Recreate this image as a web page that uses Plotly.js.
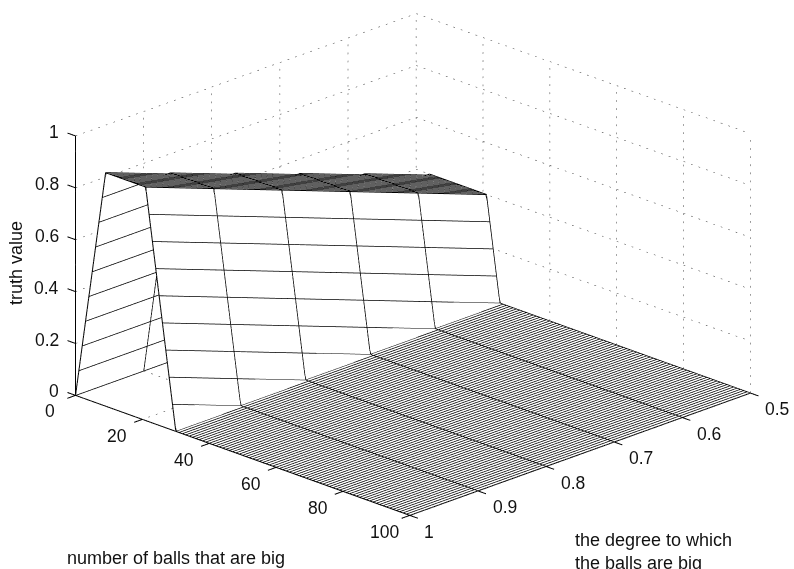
<!DOCTYPE html>
<html><head><meta charset="utf-8">
<script src="https://cdn.plot.ly/plotly-3.0.1.min.js"></script>
<style>html,body{margin:0;padding:0;background:#fff}#c{width:794px;height:569px}</style>
</head><body><div id="c"></div>
<script>
const ballCounts = [0,1,2,3,4,5,6,7,8,9,10,11,12,13,14,15,16,17,18,19,20,21,22,23,24,25,26,27,28,29,30,
 31,32,33,34,35,36,37,38,39,40,41,42,43,44,45,46,47,48,49,50,51,52,53,54,55,56,57,58,59,60,
 61,62,63,64,65,66,67,68,69,70,71,72,73,74,75,76,77,78,79,80,81,82,83,84,85,86,87,88,89,90,
 91,92,93,94,95,96,97,98,99,100];
const degrees = [0.5,0.6,0.7,0.8,0.9,1];
const floorTail = [0,0,0,0,0,0,0,0,0,0, 0,0,0,0,0,0,0,0,0,0, 0,0,0,0,0,0,0,0,0,0, 0,0,0,0,0,0,0,0,0,0,
 0,0,0,0,0,0,0,0,0,0, 0,0,0,0,0,0,0,0,0,0, 0,0,0,0,0,0,0,0,0,0];
const truthAt05 = [0,.1,.2,.3,.4,.4,.4,.4,.4,.4,.4,.4,.4,.4,.4,.4,.4,.4,.4,.4,.4,.4,.3,.2,.1,0,0,0,0,0,0];
const truthAt06 = [0,.1,.2,.3,.4,.5,.5,.5,.5,.5,.5,.5,.5,.5,.5,.5,.5,.5,.5,.5,.5,.5,.4,.3,.2,.1,0,0,0,0,0];
const truthAt07 = [0,.1,.2,.3,.4,.5,.6,.6,.6,.6,.6,.6,.6,.6,.6,.6,.6,.6,.6,.6,.6,.6,.5,.4,.3,.2,.1,0,0,0,0];
const truthAt08 = [0,.1,.2,.3,.4,.5,.6,.7,.7,.7,.7,.7,.7,.7,.7,.7,.7,.7,.7,.7,.7,.7,.6,.5,.4,.3,.2,.1,0,0,0];
const truthAt09 = [0,.1,.2,.3,.4,.5,.6,.7,.8,.8,.8,.8,.8,.8,.8,.8,.8,.8,.8,.8,.8,.8,.7,.6,.5,.4,.3,.2,.1,0,0];
const truthAt10 = [0,.1,.2,.3,.4,.5,.6,.7,.8,.9,.9,.9,.9,.9,.9,.9,.9,.9,.9,.9,.9,.9,.8,.7,.6,.5,.4,.3,.2,.1,0];
const xTicks = [0,20,40,60,80,100];
const yTicks = [0.5,0.6,0.7,0.8,0.9,1];
const zTicks = [0,0.2,0.4,0.6,0.8,1];
const xTickLabels = ['0','20','40','60','80','100'];
const yTickLabels = ['0.5','0.6','0.7','0.8','0.9','1'];
const zTickLabels = ['0','0.2','0.4','0.6','0.8','1'];

const truth = [truthAt05,truthAt06,truthAt07,truthAt08,truthAt09,truthAt10].map(r => r.concat(floorTail));
const xMin=0,xMax=100,yFront=1,yBack=0.5,zMin=0,zMax=1;

function segs(list){const X=[],Y=[],Z=[];list.forEach(s=>{X.push(s[0][0],s[1][0],null);Y.push(s[0][1],s[1][1],null);Z.push(s[0][2],s[1][2],null);});return{x:X,y:Y,z:Z};}
function dotted(a,b,n){const out=[];for(let i=0;i<=n;i++){const t=i/n,u=Math.min(1,t+0.22/n);
 out.push([[a[0]+(b[0]-a[0])*t,a[1]+(b[1]-a[1])*t,a[2]+(b[2]-a[2])*t],[a[0]+(b[0]-a[0])*u,a[1]+(b[1]-a[1])*u,a[2]+(b[2]-a[2])*u]]);}return out;}
const grid=[];
const add=(a,b,n)=>dotted(a,b,n).forEach(s=>grid.push(s));
yTicks.forEach(y=>{add([xMin,y,zMin],[xMin,y,zMax],32);add([xMin,y,zMin],[xMax,y,zMin],45);});
xTicks.forEach(x=>{add([x,yBack,zMin],[x,yBack,zMax],32);add([x,yBack,zMin],[x,yFront,zMin],45);});
zTicks.forEach(z=>{add([xMin,yFront,z],[xMin,yBack,z],45);add([xMin,yBack,z],[xMax,yBack,z],45);});
const frame=[[[xMin,yFront,zMin],[xMin,yFront,zMax]],[[xMin,yFront,zMin],[xMax,yFront,zMin]],[[xMax,yFront,zMin],[xMax,yBack,zMin]]];
xTicks.forEach(x=>frame.push([[x,yFront,zMin],[x,yFront+0.012,zMin]]));
yTicks.forEach(y=>frame.push([[xMax,y,zMin],[xMax+2.4,y,zMin]]));
zTicks.forEach(z=>frame.push([[xMin,yFront,z],[xMin-2.4,yFront,z]]));

// Wire-mesh lines, read straight from the surface table
const meshX=[],meshY=[],meshZ=[];
ballCounts.forEach((bx,i)=>{degrees.forEach((dy,j)=>{meshX.push(bx);meshY.push(dy);meshZ.push(truth[j][i]);});meshX.push(null);meshY.push(null);meshZ.push(null);});
degrees.forEach((dy,j)=>{ballCounts.forEach((bx,i)=>{meshX.push(bx);meshY.push(dy);meshZ.push(truth[j][i]);});meshX.push(null);meshY.push(null);meshZ.push(null);});

const data=[
 {type:'surface',x:ballCounts,y:degrees,z:truth,showscale:false,hoverinfo:'skip',
  colorscale:[[0,'#ffffff'],[1,'#ffffff']],
  lighting:{ambient:1,diffuse:0,specular:0,roughness:1,fresnel:0},
  contours:{
   x:{show:true,start:0,end:100,size:1,color:'#000',width:1,highlight:false},
   y:{show:true,start:0.5,end:1,size:0.1,color:'#000',width:1,highlight:false},
   z:{show:false,highlight:false}}},
 {type:'scatter3d',mode:'lines',hoverinfo:'skip',showlegend:false,line:{color:'#000',width:2},x:meshX,y:meshY,z:meshZ},
 Object.assign({type:'scatter3d',mode:'lines',hoverinfo:'skip',showlegend:false,line:{color:'#333',width:1}},segs(grid)),
 Object.assign({type:'scatter3d',mode:'lines',hoverinfo:'skip',showlegend:false,line:{color:'#000',width:2}},segs(frame))
];
const hidden=r=>({range:r,showgrid:false,zeroline:false,showline:false,showticklabels:false,ticks:'',showbackground:false,showspikes:false,title:{text:''}});
const tickFont={family:'Liberation Sans, Arial, sans-serif',size:17.5,color:'#111'};
const ann=[];
xTicks.forEach((x,i)=>ann.push({x:x,y:yFront,z:zMin,text:xTickLabels[i],showarrow:false,font:tickFont,xanchor:'center',yanchor:'middle',xshift:-25,yshift:-16}));
yTicks.forEach((y,i)=>ann.push({x:xMax,y:y,z:zMin,text:yTickLabels[i],showarrow:false,font:tickFont,xanchor:'center',yanchor:'middle',xshift:y===1?19:27,yshift:-16}));
zTicks.forEach((z,i)=>ann.push({x:xMin,y:yFront,z:z,text:zTickLabels[i],showarrow:false,font:tickFont,xanchor:'right',yanchor:'middle',xshift:-14,yshift:4}));
const titleFont={family:'Liberation Sans, Arial, sans-serif',size:18,color:'#111'};
const layout={
 width:794,height:569,margin:{l:0,r:0,t:0,b:0},paper_bgcolor:'#fff',showlegend:false,hovermode:false,
 scene:{
  domain:{x:[0.04,1],y:[0.07,1]},
  xaxis:hidden([-5,105]),yaxis:hidden([1.03,0.47]),zaxis:hidden([-0.05,1.05]),
  aspectmode:'manual',aspectratio:{x:1.966,y:2.04,z:1.156},
  camera:{projection:{type:'orthographic'},eye:{x:2.5,y:-2.5,z:1.36},center:{x:0,y:0,z:0},up:{x:0,y:0,z:1}},
  annotations:ann},
 annotations:[
  {xref:'paper',yref:'paper',x:65/794,y:1-558/569,text:'number of balls that are big',showarrow:false,font:titleFont,xanchor:'left',yanchor:'middle'},
  {xref:'paper',yref:'paper',x:573/794,y:1-551/569,text:'the degree to which<br>the balls are big',align:'left',showarrow:false,font:titleFont,xanchor:'left',yanchor:'middle'},
  {xref:'paper',yref:'paper',x:16/794,y:1-263/569,text:'truth value',textangle:-90,showarrow:false,font:titleFont,xanchor:'center',yanchor:'middle'}
 ]};
Plotly.newPlot('c',data,layout,{staticPlot:false,displayModeBar:false});
</script></body></html>
